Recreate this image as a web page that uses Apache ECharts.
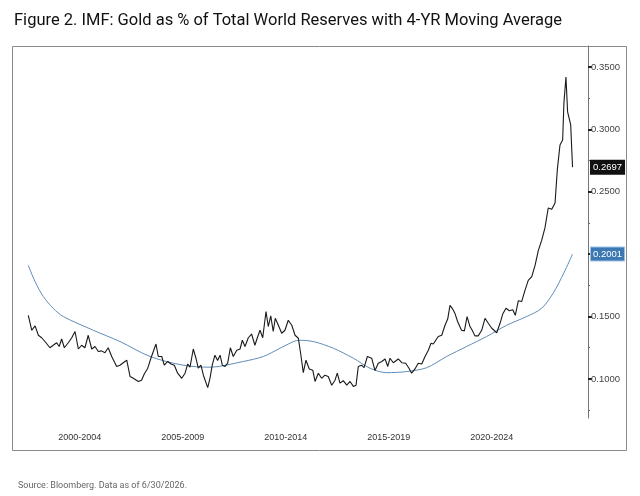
<!DOCTYPE html>
<html>
<head>
<meta charset="utf-8">
<script src="https://cdn.jsdelivr.net/npm/echarts@6/dist/echarts.min.js"></script>
<style>
  html, body { margin: 0; background: #fff; }
  #chart { width: 640px; height: 496px; }
</style>
</head>
<body>
<div id="chart"></div>
<script>
// gold as share of total world reserves, [decimal year, share]
const goldShare = [
  [2000.00, 0.151], [2000.17, 0.139], [2000.33, 0.1425], [2000.49, 0.135], [2000.65, 0.133],
  [2000.86, 0.129], [2001.05, 0.125], [2001.21, 0.127], [2001.38, 0.129], [2001.50, 0.126],
  [2001.62, 0.132], [2001.75, 0.125], [2001.94, 0.129], [2002.11, 0.133], [2002.27, 0.138],
  [2002.43, 0.124], [2002.59, 0.127], [2002.75, 0.125], [2002.91, 0.135], [2003.08, 0.124],
  [2003.24, 0.126], [2003.40, 0.122], [2003.56, 0.1225], [2003.72, 0.121], [2003.88, 0.125],
  [2004.05, 0.118], [2004.29, 0.110], [2004.45, 0.111], [2004.61, 0.113], [2004.78, 0.115],
  [2004.94, 0.102], [2005.10, 0.1005], [2005.34, 0.098], [2005.50, 0.099], [2005.63, 0.104],
  [2005.80, 0.1086], [2005.96, 0.117], [2006.20, 0.128], [2006.31, 0.118], [2006.48, 0.118],
  [2006.60, 0.111], [2006.77, 0.114], [2006.93, 0.112], [2007.09, 0.111], [2007.25, 0.1046],
  [2007.45, 0.1005], [2007.61, 0.1046], [2007.74, 0.112], [2007.85, 0.1094], [2008.01, 0.124],
  [2008.14, 0.1166], [2008.25, 0.1086], [2008.38, 0.111], [2008.50, 0.103], [2008.71, 0.093],
  [2008.82, 0.1005], [2008.93, 0.111], [2009.06, 0.119], [2009.19, 0.1147], [2009.31, 0.119],
  [2009.42, 0.111], [2009.55, 0.110], [2009.68, 0.1126], [2009.81, 0.125], [2009.95, 0.118],
  [2010.12, 0.123], [2010.28, 0.124], [2010.39, 0.131], [2010.52, 0.126], [2010.68, 0.133],
  [2010.84, 0.136], [2011.00, 0.127], [2011.12, 0.133], [2011.25, 0.139], [2011.38, 0.133],
  [2011.54, 0.154], [2011.65, 0.142], [2011.77, 0.1505], [2011.89, 0.138], [2011.99, 0.1486],
  [2012.14, 0.143], [2012.30, 0.1366], [2012.46, 0.139], [2012.62, 0.147], [2012.79, 0.143],
  [2012.95, 0.135], [2013.11, 0.1326], [2013.22, 0.1206], [2013.35, 0.105], [2013.48, 0.115],
  [2013.64, 0.108], [2013.81, 0.107], [2013.92, 0.098], [2014.08, 0.1046], [2014.24, 0.1005],
  [2014.40, 0.103], [2014.56, 0.102], [2014.73, 0.095], [2014.89, 0.099], [2015.00, 0.1046],
  [2015.13, 0.0966], [2015.29, 0.0986], [2015.46, 0.095], [2015.62, 0.098], [2015.78, 0.094],
  [2015.91, 0.095], [2016.02, 0.110], [2016.18, 0.111], [2016.30, 0.109], [2016.46, 0.118],
  [2016.67, 0.1166], [2016.83, 0.1067], [2016.99, 0.1126], [2017.16, 0.114], [2017.32, 0.116],
  [2017.45, 0.110], [2017.56, 0.1166], [2017.72, 0.113], [2017.96, 0.116], [2018.13, 0.113],
  [2018.32, 0.1126], [2018.48, 0.1086], [2018.61, 0.1046], [2018.77, 0.108], [2018.93, 0.1126],
  [2019.10, 0.112], [2019.26, 0.118], [2019.42, 0.123], [2019.55, 0.1286], [2019.66, 0.128],
  [2019.90, 0.134], [2020.07, 0.135], [2020.23, 0.143], [2020.36, 0.148], [2020.47, 0.159],
  [2020.58, 0.1566], [2020.71, 0.1526], [2020.84, 0.146], [2021.03, 0.139], [2021.17, 0.1385],
  [2021.30, 0.150], [2021.44, 0.142], [2021.55, 0.139], [2021.68, 0.1345], [2021.84, 0.1345],
  [2022.01, 0.139], [2022.17, 0.1486], [2022.33, 0.1446], [2022.50, 0.1406], [2022.74, 0.137],
  [2022.90, 0.1446], [2023.03, 0.152], [2023.19, 0.1566], [2023.35, 0.1547], [2023.52, 0.1555],
  [2023.64, 0.151], [2023.79, 0.1627], [2023.95, 0.162], [2024.11, 0.171], [2024.27, 0.179],
  [2024.44, 0.182], [2024.60, 0.191], [2024.76, 0.203], [2024.92, 0.211], [2025.08, 0.221],
  [2025.24, 0.237], [2025.41, 0.236], [2025.57, 0.241], [2025.68, 0.2675], [2025.81, 0.2875],
  [2025.94, 0.2915], [2026.00, 0.321], [2026.10, 0.342], [2026.18, 0.314], [2026.33, 0.3035],
  [2026.42, 0.2697]
];

// 4-year moving average
const movingAvg = [
  [2000.00, 0.191], [2000.33, 0.178], [2000.73, 0.166], [2001.21, 0.1566], [2001.70, 0.150],
  [2003.16, 0.139], [2004.45, 0.130], [2005.91, 0.118], [2007.52, 0.111], [2008.82, 0.1094],
  [2010.44, 0.114], [2011.41, 0.118], [2012.22, 0.1246], [2012.70, 0.1286], [2013.11, 0.131],
  [2013.83, 0.130], [2014.81, 0.1246], [2015.78, 0.1166], [2016.59, 0.1086], [2017.40, 0.105],
  [2018.37, 0.1059], [2019.34, 0.109], [2020.31, 0.118], [2021.28, 0.126], [2022.25, 0.134],
  [2023.22, 0.143], [2024.19, 0.150], [2024.92, 0.1566], [2025.49, 0.169], [2026.00, 0.185],
  [2026.42, 0.2001]
];

const periodCenters = [2002.5, 2007.5, 2012.5, 2017.5, 2022.5];
const periodLabels = ['2000-2004', '2005-2009', '2010-2014', '2015-2019', '2020-2024'];
const majorTicks = [0.10, 0.15, 0.20, 0.25, 0.30, 0.35];
const minorTicks = [0.075, 0.125, 0.175, 0.225, 0.275, 0.325];

const chart = echarts.init(document.getElementById('chart'));

// last-value tag sitting on the right axis
const lastTag = (value, bg, border) => ({
  silent: true,
  precision: 4,
  symbol: ['none', 'none'],
  lineStyle: { color: 'rgba(0,0,0,0)', width: 1 },
  data: [{ yAxis: value }],
  label: {
    show: true,
    position: 'end',
    distance: 3,
    formatter: p => Number(p.value).toFixed(4),
    color: '#fff',
    fontSize: 9.5,
    fontFamily: 'Liberation Sans',
    backgroundColor: bg,
    borderColor: border,
    borderWidth: 1,
    padding: [2, 2, 1, 2]
  }
});

const option = {
  animation: false,
  backgroundColor: '#fff',
  title: [
    {
      text: 'Figure 2. IMF: Gold as % of Total World Reserves with 4-YR Moving Average',
      left: 9,
      top: 7,
      textStyle: { fontFamily: 'Roboto', fontSize: 16.5, fontWeight: 'normal', color: '#111' }
    },
    {
      text: 'Source: Bloomberg. Data as of 6/30/2026.',
      left: 13,
      top: 476,
      textStyle: { fontFamily: "'Liberation Sans Narrow', Roboto", fontSize: 9, fontWeight: 'normal', color: '#666' }
    }
  ],
  grid: { left: 12, right: 52, top: 46, bottom: 78 },
  xAxis: {
    type: 'value',
    min: 1999.21,
    max: 2027.17,
    axisLine: { show: false },
    axisTick: { show: false },
    splitLine: { show: false },
    axisLabel: {
      customValues: periodCenters,
      formatter: v => periodLabels[periodCenters.indexOf(v)],
      margin: 15,
      fontFamily: 'Liberation Sans',
      fontSize: 9,
      color: '#333'
    }
  },
  yAxis: [
    {
      type: 'value',
      position: 'right',
      min: 0.0687,
      max: 0.3668,
      axisLine: { show: true, lineStyle: { color: '#777', width: 1 } },
      axisTick: { show: true, customValues: majorTicks, length: 4, lineStyle: { color: '#222', width: 2 } },
      splitLine: { show: false },
      axisLabel: {
        customValues: majorTicks,
        formatter: v => v.toFixed(4),
        margin: 3,
        fontFamily: 'Liberation Sans',
        fontSize: 9.5,
        color: '#444'
      }
    },
    {
      type: 'value',
      position: 'right',
      min: 0.0687,
      max: 0.3668,
      axisLine: { show: false },
      axisTick: { show: true, customValues: minorTicks, length: 2, lineStyle: { color: '#666', width: 1 } },
      splitLine: { show: false },
      axisLabel: { show: false }
    }
  ],
  series: [
    {
      name: '4-YR Moving Average',
      type: 'line',
      data: movingAvg,
      yAxisIndex: 0,
      showSymbol: false,
      smooth: 0.3,
      clip: false,
      lineStyle: { color: '#5f8dbb', width: 1 },
      markLine: lastTag(movingAvg[movingAvg.length - 1][1], '#3b78b4', '#9ec2e4'),
      z: 2
    },
    {
      name: 'Gold % of Reserves',
      type: 'line',
      data: goldShare,
      yAxisIndex: 0,
      showSymbol: false,
      clip: false,
      lineStyle: { color: '#1a1a1a', width: 1.1 },
      markLine: lastTag(goldShare[goldShare.length - 1][1], '#111', '#111'),
      z: 3
    }
  ],
  graphic: [
    {
      type: 'rect',
      silent: true,
      shape: { x: 12.5, y: 46.5, width: 614, height: 404 },
      style: { fill: 'none', stroke: '#8a8a8a', lineWidth: 1 }
    }
  ]
};

chart.setOption(option);
window.addEventListener('resize', () => chart.resize());
</script>
</body>
</html>
